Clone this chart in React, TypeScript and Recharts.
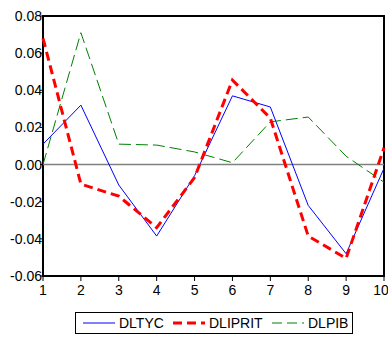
import { Line, LineChart, ReferenceArea, ReferenceLine, XAxis, YAxis } from 'recharts'

const periods = [1, 2, 3, 4, 5, 6, 7, 8, 9, 10]
const dltyc = [0.011, 0.032, -0.011, -0.0385, -0.006, 0.037, 0.031, -0.022, -0.048, -0.002]
const dliprit = [0.068, -0.0105, -0.017, -0.034, -0.007, 0.0455, 0.025, -0.0385, -0.0505, 0.009]
const dlpib = [0.0, 0.071, 0.011, 0.0105, 0.0068, 0.001, 0.023, 0.0256, 0.0045, -0.0095]
const yTicks = [-0.06, -0.04, -0.02, 0, 0.02, 0.04, 0.06, 0.08]

const data = periods.map((p, i) => ({
  period: p,
  DLTYC: dltyc[i],
  DLIPRIT: dliprit[i],
  DLPIB: dlpib[i],
}))

const font = '"Liberation Sans", Arial, sans-serif'
const tickStyle = { fill: '#000', fontSize: 14, fontFamily: font }

const legendItems = [
  { name: 'DLTYC', color: '#0000ff', width: 1, dash: undefined, left: 7 },
  { name: 'DLIPRIT', color: '#ff0000', width: 3, dash: '9 5', left: 97 },
  { name: 'DLPIB', color: '#008000', width: 1, dash: '10 5', left: 196 },
]

export default function App() {
  return (
    <div style={{ position: 'absolute', left: 0, top: 0, width: 388, height: 337, background: '#fff' }}>
      <LineChart width={388} height={337} data={data} margin={{ top: 16, right: 4, left: 0, bottom: 0 }}>
        <XAxis
          dataKey="period"
          type="number"
          domain={[1, 10]}
          ticks={periods}
          height={61}
          axisLine={false}
          tickSize={5}
          tickMargin={4}
          tickLine={{ stroke: '#000' }}
          tick={tickStyle}
        />
        <YAxis
          type="number"
          domain={[-0.06, 0.08]}
          ticks={yTicks}
          width={43}
          axisLine={false}
          tickSize={3}
          tickMargin={-2}
          tickLine={{ stroke: '#000' }}
          tick={tickStyle}
          tickFormatter={(v: number) => v.toFixed(2)}
        />
        <ReferenceLine y={0} stroke="#808080" strokeWidth={1.5} />
        <Line
          dataKey="DLTYC"
          stroke="#0000ff"
          strokeWidth={1}
          dot={false}
          isAnimationActive={false}
        />
        <Line
          dataKey="DLPIB"
          stroke="#008000"
          strokeWidth={1}
          strokeDasharray="12 5"
          dot={false}
          isAnimationActive={false}
        />
        <Line
          dataKey="DLIPRIT"
          stroke="#ff0000"
          strokeWidth={3}
          strokeDasharray="9 5"
          dot={false}
          isAnimationActive={false}
        />
        <ReferenceArea
          x1={1}
          x2={10}
          y1={-0.06}
          y2={0.08}
          fill="none"
          stroke="#000"
          strokeWidth={2}
          ifOverflow="visible"
        />
      </LineChart>
      <div
        style={{
          position: 'absolute',
          left: 75,
          top: 312,
          width: 278,
          height: 22,
          border: '1px solid #000',
          boxSizing: 'border-box',
          fontFamily: font,
          fontSize: 14,
        }}
      >
        {legendItems.map((item) => (
          <div
            key={item.name}
            style={{ position: 'absolute', left: item.left, top: 0, height: 20, display: 'flex', alignItems: 'center' }}
          >
            <svg width={32} height={6} style={{ marginRight: 4 }}>
              <line
                x1={0}
                y1={3}
                x2={32}
                y2={3}
                stroke={item.color}
                strokeWidth={item.width}
                strokeDasharray={item.dash}
              />
            </svg>
            <span>{item.name}</span>
          </div>
        ))}
      </div>
    </div>
  )
}
